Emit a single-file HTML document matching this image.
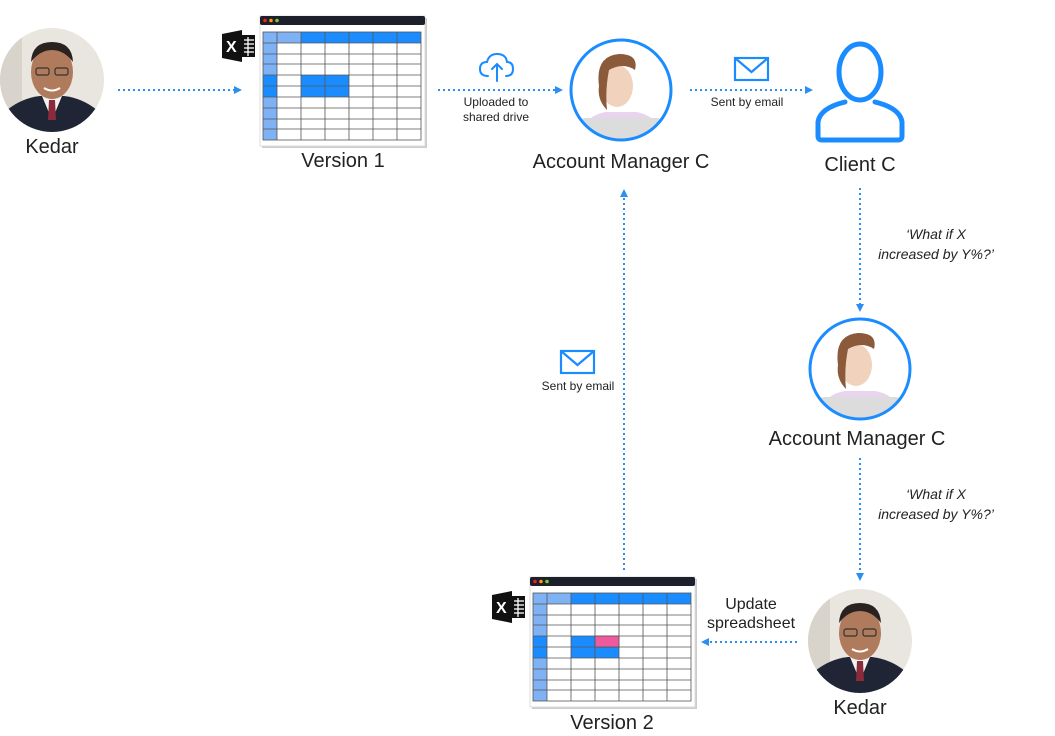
<!DOCTYPE html>
<html><head><meta charset="utf-8"><style>
body{margin:0;background:#fff;width:1055px;height:736px;overflow:hidden}
svg{display:block}
text{font-family:"Liberation Sans",sans-serif;fill:#222}
</style></head><body>
<svg width="1055" height="736" viewBox="0 0 1055 736" xmlns="http://www.w3.org/2000/svg">
<defs>
<marker id="ah" markerWidth="8" markerHeight="8" refX="6" refY="4" orient="auto" markerUnits="userSpaceOnUse"><path d="M0,0 L8,4 L0,8z" fill="#2b8ef0"/></marker>
<clipPath id="c1"><circle cx="52" cy="80" r="52"/></clipPath>
<clipPath id="c2"><circle cx="860" cy="641" r="52"/></clipPath>
<clipPath id="c3"><circle cx="621" cy="90" r="49"/></clipPath>
<clipPath id="c4"><circle cx="860" cy="369" r="49"/></clipPath>
<g id="kedar">
<rect x="-60" y="-60" width="120" height="120" fill="#e9e6e0"/>
<rect x="-60" y="-60" width="30" height="120" fill="#d8d4cc"/>
<path d="M-50,60 L-45,30 Q-30,18 -12,16 L12,16 Q30,18 45,30 L50,60z" fill="#1f2535"/>
<path d="M-10,16 L0,40 L10,16z" fill="#f2f2f2"/>
<path d="M-3,20 L3,20 L4,40 L-4,40z" fill="#8a2a3a"/>
<ellipse cx="0" cy="-8" rx="21" ry="27" fill="#b07a5c"/>
<path d="M-21,-18 Q-20,-38 0,-38 Q20,-38 21,-18 Q12,-30 0,-30 Q-12,-30 -21,-18z" fill="#2a2220"/>
<rect x="-16" y="-12" width="13" height="7" rx="2" fill="none" stroke="#333" stroke-width="1.2"/>
<rect x="3" y="-12" width="13" height="7" rx="2" fill="none" stroke="#333" stroke-width="1.2"/>
<path d="M-8,8 Q0,13 8,8" stroke="#fff" stroke-width="2" fill="none"/>
</g>
<g id="am">
<rect x="-60" y="-60" width="120" height="120" fill="#fff"/>
<path d="M-42,45 Q-35,25 -15,22 L15,22 Q35,25 42,45z" fill="#e8d4ec"/>
<ellipse cx="-4" cy="-4" rx="16" ry="21" fill="#f1d2bd"/>
<path d="M-22,-4 Q-26,-34 -2,-36 Q18,-36 14,-20 Q2,-28 -12,-20 Q-16,0 -14,20 Q-24,10 -22,-4z" fill="#8a5a3a"/>
<rect x="-40" y="28" width="80" height="30" rx="4" fill="#dcdcdc"/>
</g>
<g id="xl">
<path d="M0,4 L20,0 L20,32 L0,28z" fill="#111"/>
<rect x="20" y="5" width="13" height="22" fill="#111"/>
<g stroke="#fff" stroke-width="1.3"><line x1="22" y1="10" x2="32" y2="10"/><line x1="22" y1="14" x2="32" y2="14"/><line x1="22" y1="18" x2="32" y2="18"/><line x1="22" y1="22" x2="32" y2="22"/><line x1="26" y1="7" x2="26" y2="26"/></g>
<text x="4" y="22" font-size="16" font-weight="bold" style="fill:#fff">X</text>
</g>
</defs>

<!-- photos -->
<g clip-path="url(#c1)"><use href="#kedar" x="52" y="80"/></g>
<g clip-path="url(#c2)"><use href="#kedar" x="860" y="641"/></g>
<g clip-path="url(#c3)"><use href="#am" x="621" y="90"/></g>
<circle cx="621" cy="90" r="50" fill="none" stroke="#1a8cff" stroke-width="3"/>
<g clip-path="url(#c4)"><use href="#am" x="860" y="369"/></g>
<circle cx="860" cy="369" r="50" fill="none" stroke="#1a8cff" stroke-width="3"/>

<!-- client icon -->
<g fill="none" stroke="#1a8cff" stroke-width="5" stroke-linecap="round">
<ellipse cx="860" cy="72" rx="21" ry="28"/>
<path d="M845,102 Q820,108 818,122 L818,136 Q818,140 822,140 L898,140 Q902,140 902,136 L902,122 Q900,108 875,102"/>
</g>

<!-- spreadsheets -->
<g id="ss1">
<rect x="262" y="18" width="165" height="130" fill="#ccc"/>
<rect x="260" y="16" width="165" height="130" fill="#fff" stroke="#ddd"/>
<rect x="260" y="16" width="165" height="9" rx="2" fill="#1d1f2b"/>
<circle cx="265" cy="20.5" r="1.8" fill="#e22"/><circle cx="271" cy="20.5" r="1.8" fill="#f90"/><circle cx="277" cy="20.5" r="1.8" fill="#7c3"/>
<rect x="263" y="32" width="38" height="11" fill="#7fb2f5"/>
<rect x="301" y="32" width="120" height="11" fill="#1a8cff"/>
<rect x="263" y="43" width="14" height="32" fill="#7fb2f5"/>
<rect x="263" y="75" width="14" height="22" fill="#1a8cff"/>
<rect x="263" y="97" width="14" height="43" fill="#7fb2f5"/>
<rect x="301" y="75" width="48" height="22" fill="#1a8cff"/>
<g stroke="#555" stroke-width="0.8" fill="none">
<rect x="263" y="32" width="158" height="108"/>
<path d="M277,32V140M301,32V140M325,32V140M349,32V140M373,32V140M397,32V140"/>
<path d="M263,43H421M263,54H421M263,64H421M263,75H421M263,86H421M263,97H421M263,108H421M263,119H421M263,129H421"/>
</g>
</g>
<use href="#ss1" x="270" y="561"/>
<rect x="595" y="636" width="24" height="11" fill="#ef5a9c" stroke="#555" stroke-width="0.8"/>
<use href="#xl" x="222" y="30"/>
<use href="#xl" x="492" y="591"/>

<!-- arrows -->
<g stroke="#2b8ef0" stroke-width="2" stroke-dasharray="2 3" fill="none" marker-end="url(#ah)">
<line x1="118" y1="90" x2="240" y2="90"/>
<line x1="438" y1="90" x2="561" y2="90"/>
<line x1="690" y1="90" x2="811" y2="90"/>
<line x1="860" y1="188" x2="860" y2="310"/>
<line x1="860" y1="458" x2="860" y2="579"/>
<line x1="797" y1="642" x2="703" y2="642"/>
<line x1="624" y1="570" x2="624" y2="191"/>
</g>

<!-- cloud icon -->
<g fill="none" stroke="#1a8cff" stroke-width="2" stroke-linecap="round">
<path d="M488,76 Q480,76 480,69 Q480,62 487,62 Q489,54 497,54 Q506,54 507,62 Q513,62 513,69 Q513,76 506,76"/>
<path d="M497,81V64M492,69L497,64L502,69"/>
</g>
<!-- mail icons -->
<g fill="none" stroke="#1a8cff" stroke-width="2.2">
<rect x="735" y="58" width="33" height="22"/><path d="M735,58L751.5,72L768,58"/>
<rect x="561" y="351" width="33" height="22"/><path d="M561,351L577.5,365L594,351"/>
</g>

<!-- labels -->
<g font-size="20">
<text x="52" y="153" text-anchor="middle">Kedar</text>
<text x="343" y="167" text-anchor="middle">Version 1</text>
<text x="621" y="168" text-anchor="middle">Account Manager C</text>
<text x="860" y="171" text-anchor="middle">Client C</text>
<text x="857" y="445" text-anchor="middle">Account Manager C</text>
<text x="860" y="714" text-anchor="middle">Kedar</text>
<text x="612" y="729" text-anchor="middle">Version 2</text>
</g>
<g font-size="16" text-anchor="middle">
<text x="751" y="609">Update</text>
<text x="751" y="628">spreadsheet</text>
</g>
<g font-size="12" text-anchor="middle">
<text x="496" y="106">Uploaded to</text>
<text x="496" y="121">shared drive</text>
<text x="747" y="106">Sent by email</text>
<text x="578" y="390">Sent by email</text>
</g>
<g font-size="14" font-style="italic" text-anchor="middle">
<text x="936" y="239">‘What if X</text>
<text x="936" y="259">increased by Y%?’</text>
<text x="936" y="499">‘What if X</text>
<text x="936" y="519">increased by Y%?’</text>
</g>
</svg>
</body></html>
